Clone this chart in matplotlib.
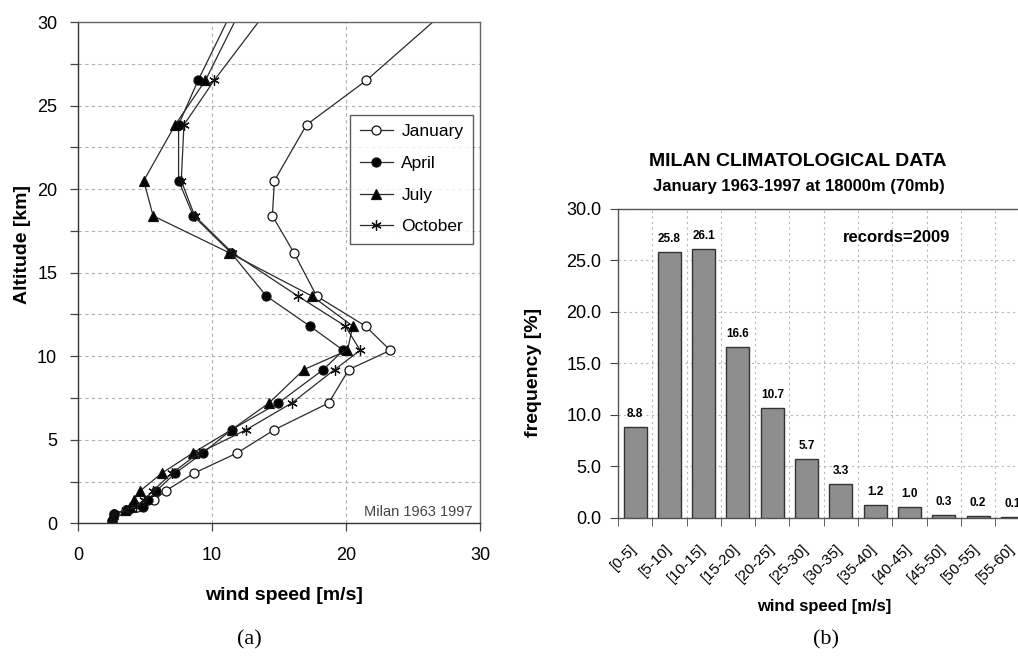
import matplotlib
matplotlib.use("Agg")
import matplotlib.pyplot as plt

plt.rcParams['font.family'] = ['Liberation Sans', 'DejaVu Sans']

# (a) wind speed profiles, Milan 1963-1997
altitude = [0.15, 0.55, 0.8, 1.0, 1.4, 1.95, 3.0, 4.2, 5.6, 7.2, 9.2, 10.35,
            11.8, 13.6, 16.2, 18.4, 20.5, 23.85, 26.5, 31.0]
january = [2.5, 2.7, 3.6, 4.4, 5.7, 6.55, 8.65, 11.85, 14.65, 18.7, 20.2, 23.3,
           21.45, 17.8, 16.1, 14.5, 14.65, 17.05, 21.5, 27.9]
april = [2.5, 2.7, 3.7, 4.85, 5.2, 5.85, 7.25, 9.3, 11.45, 14.95, 18.3, 19.8,
         17.3, 14.05, 11.4, 8.6, 7.5, 7.5, 8.95, 11.7]
july = [2.5, 2.6, 3.5, 3.9, 4.15, 4.65, 6.25, 8.55, 11.45, 14.25, 16.85, 20.1,
        20.5, 17.45, 11.25, 5.6, 4.9, 7.25, 9.5, 12.3]
october = [2.5, 2.65, 3.6, 4.3, 4.9, 5.6, 7.0, 9.0, 12.55, 15.95, 19.15, 21.05,
           19.95, 16.4, 11.5, 8.7, 7.7, 7.9, 10.15, 14.4]

# (b) frequency distribution at 70 mb
classes = ['[0-5]', '[5-10]', '[10-15]', '[15-20]', '[20-25]', '[25-30]',
           '[30-35]', '[35-40]', '[40-45]', '[45-50]', '[50-55]', '[55-60]']
freq = [8.8, 25.8, 26.1, 16.6, 10.7, 5.7, 3.3, 1.2, 1.0, 0.3, 0.2, 0.1]

narrow = ['Liberation Sans Narrow', 'Liberation Sans', 'DejaVu Sans']

fig = plt.figure(figsize=(10.18, 6.57), dpi=100)

# ---------------- left chart
ax1 = fig.add_axes([0.0767, 0.2035, 0.3949, 0.763])
styles = [
    ('January', january, dict(marker='o', markerfacecolor='white', markersize=6.5)),
    ('April', april, dict(marker='o', markerfacecolor='black', markersize=6.5)),
    ('July', july, dict(marker='^', markerfacecolor='black', markersize=7.5)),
    ('October', october, dict(marker=(6, 2, 0), markersize=7.5)),
]
for name, vals, st in styles:
    ax1.plot(vals, altitude, color='#2a2a2a', linewidth=0.9, label=name,
             markeredgecolor='#111111', markeredgewidth=0.9, **st)

ax1.set_xlim(0, 30)
ax1.set_ylim(0, 30)
ax1.set_xticks([0, 10, 20, 30])
ax1.set_yticks([0, 5, 10, 15, 20, 25, 30])
ax1.set_yticks([2.5, 7.5, 12.5, 17.5, 22.5, 27.5], minor=True)
ax1.grid(True, which='both', axis='y', color='#b0b0b0', linestyle=(0, (3, 3)), linewidth=0.8)
ax1.grid(True, which='major', axis='x', color='#b0b0b0', linestyle=(0, (3, 3)), linewidth=0.8)
ax1.tick_params(axis='both', which='both', direction='out', length=6, width=0.9,
                labelsize=13, color='#444444')
ax1.tick_params(axis='x', pad=11)
ax1.tick_params(axis='y', pad=9)
for sp in ax1.spines.values():
    sp.set_color('#666666')
    sp.set_linewidth(1.0)
ax1.spines['left'].set_color('#333333')
ax1.spines['bottom'].set_color('#333333')

ax1.set_xlabel('wind speed [m/s]', fontsize=14, fontweight='bold')
ax1.xaxis.set_label_coords(0.511, -0.127)
ax1.set_ylabel('Altitude [km]', fontsize=14, fontweight='bold')
ax1.yaxis.set_label_coords(-0.118, 0.557)

leg = ax1.legend(loc='upper right', bbox_to_anchor=(0.9826, 0.815), fontsize=12.5,
                 frameon=True, fancybox=False, edgecolor='#333333',
                 handlelength=1.9, labelspacing=0.95, borderpad=0.55,
                 handletextpad=0.5, borderaxespad=0)
leg.get_frame().set_linewidth(1.0)

ax1.text(0.98, 0.022, 'Milan 1963 1997', transform=ax1.transAxes, ha='right',
         va='center', fontsize=10.5, color='#444444')

# ---------------- right chart
ax2 = fig.add_axes([0.607, 0.212, 0.4043, 0.470])
pos = list(range(len(classes)))
bars = ax2.bar(pos, freq, width=0.67, color='#8e8e8e', edgecolor='#333333',
               linewidth=1.0, zorder=3)
for b, v in zip(bars, freq):
    ax2.annotate('%.1f' % v, (b.get_x() + b.get_width() / 2, b.get_height()),
                 xytext=(0, 5), textcoords='offset points', ha='center',
                 va='bottom', fontsize=8.5, fontweight='bold', family=narrow)

ax2.set_xlim(-0.5, len(classes) - 0.5)
ax2.set_ylim(0, 30)
ax2.set_yticks([0, 5, 10, 15, 20, 25, 30])
ax2.set_yticklabels(['%.1f' % t for t in [0, 5, 10, 15, 20, 25, 30]])
# label anchors sit a little left of the bar centres, as in the original
ax2.set_xticks([p - 0.15 for p in pos])
ax2.set_xticklabels(classes, rotation=45, ha='right', rotation_mode='anchor',
                    family=narrow, fontsize=11)
ax2.set_xticks([p + 0.5 for p in [-1] + pos], minor=True)
ax2.tick_params(axis='x', which='major', length=0, pad=17)
ax2.tick_params(axis='x', which='minor', length=6, direction='out', color='#444444')
ax2.tick_params(axis='y', direction='out', length=6, labelsize=13, pad=6, color='#444444')
ax2.grid(True, which='minor', axis='x', color='#b8b8b8', linestyle=(0, (2, 3)), linewidth=0.8)
ax2.grid(True, which='major', axis='y', color='#b8b8b8', linestyle=(0, (2, 3)), linewidth=0.8)
for sp in ax2.spines.values():
    sp.set_color('#555555')
    sp.set_linewidth(1.0)

ax2.set_ylabel('frequency [%]', fontsize=14, fontweight='bold')
ax2.yaxis.set_label_coords(-0.185, 0.469)
ax2.set_xlabel('wind speed [m/s]', fontsize=12, fontweight='bold', family=narrow)
ax2.xaxis.set_label_coords(0.50, -0.262)

ax2.text(0.678, 0.907, 'records=2009', transform=ax2.transAxes, ha='center',
         va='center', fontsize=12, fontweight='bold', family=narrow)

fig.text(798 / 1018, 1 - 162 / 657, 'MILAN CLIMATOLOGICAL DATA', ha='center',
         va='center', fontsize=14, fontweight='bold', family=narrow)
fig.text(799 / 1018, 1 - 186 / 657, 'January 1963-1997 at 18000m (70mb)', ha='center',
         va='center', fontsize=12, fontweight='bold', family=narrow)

# captions
fig.text(249 / 1018, 1 - 640 / 657, '(a)', ha='center', va='center', fontsize=16,
         family=['Liberation Serif', 'DejaVu Serif'])
fig.text(826 / 1018, 1 - 640 / 657, '(b)', ha='center', va='center', fontsize=16,
         family=['Liberation Serif', 'DejaVu Serif'])

fig.savefig('out.png', dpi=100)
